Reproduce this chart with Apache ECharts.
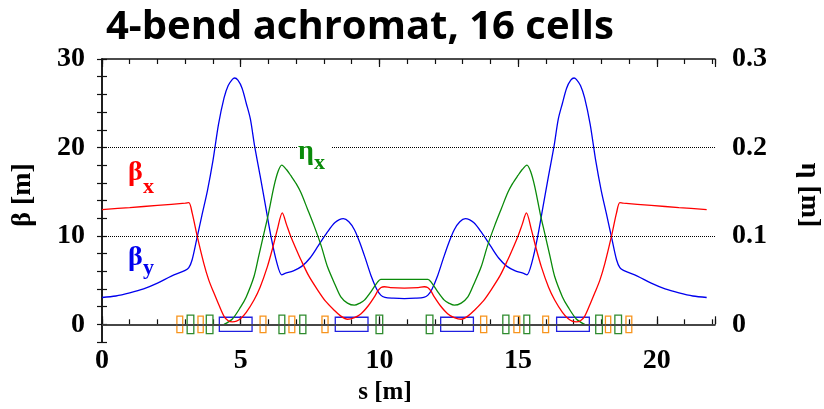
<!DOCTYPE html>
<html lang="en">

<head>
  <meta charset="UTF-8">
  <title>4-bend achromat, 16 cells</title>
  <style>
    html, body { margin: 0; padding: 0; background: #fff; }
    #chart { width: 824px; height: 409px; }
  </style>
  <script src="https://cdn.jsdelivr.net/npm/echarts@6/dist/echarts.min.js"></script>
</head>

<body>
  <div id="chart"></div>
  <script>
    // beta_y (blue)
    const sBetaY = [0, 0.5, 1.0, 1.5, 2.0, 2.5, 3.0, 3.13, 3.25, 3.4, 3.6, 3.8, 4.0, 4.2, 4.4, 4.55, 4.7, 4.78, 4.9, 5.05,
      5.2, 5.35, 5.5, 5.7, 5.9, 6.1, 6.3, 6.48, 6.6, 6.9, 7.2, 7.5, 7.8, 8.1, 8.4, 8.7, 8.9, 9.1, 9.3, 9.5,
      9.7, 9.9, 10.05, 10.2, 10.5, 10.9, 11.3, 11.6, 11.75, 11.9, 12.1, 12.3, 12.5, 12.7, 12.9, 13.1, 13.4, 13.7, 14.0, 14.3,
      14.6, 14.9, 15.2, 15.32, 15.5, 15.7, 15.9, 16.1, 16.3, 16.45, 16.6, 16.75, 16.9, 17.02, 17.1, 17.25, 17.4, 17.6, 17.8, 18.0,
      18.2, 18.4, 18.55, 18.67, 18.8, 19.3, 19.8, 20.3, 20.8, 21.3, 21.8];
    const betaY = [3.03, 3.2, 3.55, 4.0, 4.65, 5.45, 6.1, 6.4, 7.3, 9.4, 12.3, 15.1, 18.5, 22.6, 25.6, 27.0, 27.7, 27.85, 27.6, 26.7,
      25.0, 23.2, 20.2, 16.8, 13.3, 9.8, 7.0, 5.6, 5.75, 6.05, 6.55, 7.5, 8.9, 10.3, 11.5, 11.95, 11.6, 10.7, 9.2, 7.4,
      5.5, 4.0, 3.3, 3.05, 2.95, 2.9, 2.95, 3.05, 3.3, 4.0, 5.5, 7.4, 9.2, 10.7, 11.6, 11.95, 11.5, 10.3, 8.9, 7.5,
      6.55, 6.05, 5.75, 5.6, 7.0, 9.8, 13.3, 16.8, 20.2, 23.2, 25.0, 26.7, 27.6, 27.85, 27.7, 27.0, 25.6, 22.6, 18.5, 15.1,
      12.3, 9.4, 7.3, 6.4, 6.1, 5.45, 4.65, 4.0, 3.55, 3.2, 3.03];

    // beta_x (red)
    const sBetaX = [0, 1, 2, 3.0, 3.13, 3.25, 3.43, 3.67, 3.85, 4.04, 4.2, 4.4, 4.55, 4.7, 4.85, 5.0, 5.2, 5.48, 5.7, 5.96,
      6.15, 6.32, 6.5, 6.65, 6.81, 7.0, 7.17, 7.45, 7.77, 8.05, 8.37, 8.6, 8.85, 9.1, 9.34, 9.6, 9.82, 9.95, 10.06, 10.18,
      10.4, 10.9, 11.4, 11.62, 11.74, 11.85, 11.98, 12.2, 12.46, 12.7, 12.95, 13.2, 13.43, 13.75, 14.03, 14.35, 14.63, 14.8, 14.99, 15.15,
      15.3, 15.48, 15.65, 15.84, 16.1, 16.32, 16.6, 16.8, 16.95, 17.1, 17.25, 17.4, 17.6, 17.76, 17.95, 18.13, 18.37, 18.55, 18.67, 18.8,
      19.8, 20.8, 21.8];
    const betaX = [12.97, 13.2, 13.45, 13.7, 13.75, 12.6, 10.0, 6.9, 5.0, 3.5, 2.3, 0.9, 0.4, 0.27, 0.35, 0.65, 1.35, 2.75, 4.2, 6.5,
      8.6, 10.7, 12.6, 11.3, 9.9, 8.5, 7.3, 5.5, 3.9, 2.65, 1.6, 0.95, 0.57, 0.75, 1.2, 2.1, 3.1, 3.8, 4.17, 4.25,
      4.15, 4.1, 4.15, 4.25, 4.17, 3.8, 3.1, 2.1, 1.2, 0.75, 0.57, 0.95, 1.6, 2.65, 3.9, 5.5, 7.3, 8.5, 9.9, 11.3,
      12.6, 10.7, 8.6, 6.5, 4.2, 2.75, 1.35, 0.65, 0.35, 0.27, 0.4, 0.9, 2.3, 3.5, 5.0, 6.9, 10.0, 12.6, 13.75, 13.7,
      13.45, 13.2, 12.97];

    // eta_x (green, right axis)
    const sEta = [4.4, 4.7, 5.0, 5.2, 5.48, 5.65, 5.84, 6.0, 6.2, 6.35, 6.48, 6.65, 6.81, 7.0, 7.17, 7.4, 7.65, 7.9, 8.13, 8.4,
      8.61, 8.85, 9.1, 9.3, 9.46, 9.7, 9.94, 10.05, 10.9, 11.75, 11.86, 12.1, 12.34, 12.5, 12.7, 12.95, 13.19, 13.4, 13.67, 13.9,
      14.15, 14.4, 14.63, 14.8, 14.99, 15.15, 15.32, 15.45, 15.6, 15.8, 15.96, 16.15, 16.32, 16.6, 16.8, 17.1, 17.4];
    const etaX = [0, 0.006, 0.0197, 0.031, 0.054, 0.077, 0.103, 0.125, 0.156, 0.173, 0.180, 0.175, 0.168, 0.159, 0.149, 0.131, 0.111, 0.089, 0.065, 0.045,
      0.031, 0.024, 0.0216, 0.024, 0.0273, 0.037, 0.048, 0.0508, 0.0508, 0.0508, 0.048, 0.037, 0.0273, 0.024, 0.0216, 0.024, 0.031, 0.045, 0.065, 0.089,
      0.111, 0.131, 0.149, 0.159, 0.168, 0.175, 0.180, 0.173, 0.156, 0.125, 0.103, 0.077, 0.054, 0.031, 0.0197, 0.006, 0];

    // lattice elements: B = dipole, Q = quadrupole, S = sextupole
    const magStart = [2.70, 3.07, 3.46, 3.76, 4.23, 5.70, 6.38, 6.74, 7.13, 7.93, 8.41, 9.88,
      11.69, 12.21, 13.65, 14.45, 14.85, 15.21, 15.89, 16.39, 17.80, 18.15, 18.49, 18.89];
    const magEnd = [2.91, 3.31, 3.65, 4.00, 5.41, 5.91, 6.59, 6.95, 7.35, 8.15, 9.59, 10.12,
      11.93, 13.39, 13.87, 14.67, 15.06, 15.42, 16.10, 17.57, 18.04, 18.34, 18.73, 19.10];
    const magType = ['S', 'Q', 'S', 'Q', 'B', 'S', 'Q', 'S', 'Q', 'S', 'B', 'Q',
      'Q', 'B', 'S', 'Q', 'S', 'Q', 'S', 'B', 'Q', 'S', 'Q', 'S'];

    const betaTicks = [0, 10, 20, 30];
    const etaTicks = [0, 0.1, 0.2, 0.3];
    const sTicks = [0, 5, 10, 15, 20];

    const zip = (a, b) => a.map((v, i) => [v, b[i]]);

    const serif = 'Liberation Serif';
    const magStyle = {
      B: { color: '#2020e0', half: 0.8 },
      Q: { color: '#2e8b2e', half: 1.05 },
      S: { color: '#f7941d', half: 0.93 }
    };

    const xCommon = { type: 'value', min: 0, max: 22.1, splitLine: { show: false } };
    const frameLine = { show: true, lineStyle: { color: '#111', width: 1.5 } };
    const tickStyle = { color: '#111', width: 1.2 };

    let myChart = echarts.init(document.getElementById('chart'));

    let option = {
      animation: false,
      backgroundColor: '#fff',
      grid: { left: 102, right: 109, top: 59, bottom: 67 },
      xAxis: [
        Object.assign({}, xCommon, {
          position: 'bottom', interval: 5,
          axisLine: frameLine,
          axisTick: { show: true, inside: true, length: 8, lineStyle: tickStyle },
          axisLabel: {
            margin: 5, color: '#000', fontFamily: serif, fontWeight: 'bold', fontSize: 28,
            formatter: v => sTicks.indexOf(v) >= 0 ? String(v) : ''
          }
        }),
        Object.assign({}, xCommon, {
          position: 'bottom', interval: 1,
          axisLine: { show: false },
          axisTick: { show: true, inside: true, length: 5, lineStyle: tickStyle },
          axisLabel: { show: false }
        }),
        Object.assign({}, xCommon, {
          position: 'top', interval: 5,
          axisLine: frameLine,
          axisTick: { show: true, inside: true, length: 8, lineStyle: tickStyle },
          axisLabel: { show: false }
        }),
        Object.assign({}, xCommon, {
          position: 'top', interval: 1,
          axisLine: { show: false },
          axisTick: { show: true, inside: true, length: 5, lineStyle: tickStyle },
          axisLabel: { show: false }
        })
      ],
      yAxis: [
        {
          type: 'value', position: 'left', min: -2, max: 30, interval: 2,
          splitLine: { show: false },
          axisLine: frameLine,
          axisTick: { show: true, inside: true, length: 5, lineStyle: tickStyle },
          axisLabel: {
            margin: 17, color: '#000', fontFamily: serif, fontWeight: 'bold', fontSize: 28,
            formatter: v => betaTicks.indexOf(Math.round(v * 1000) / 1000) >= 0 ? String(Math.round(v)) : ''
          }
        },
        {
          type: 'value', position: 'right', min: -0.02, max: 0.3, interval: 0.02,
          splitLine: { show: false },
          axisLine: frameLine,
          axisTick: { show: true, inside: true, length: 5, lineStyle: tickStyle },
          axisLabel: {
            margin: 17, color: '#000', fontFamily: serif, fontWeight: 'bold', fontSize: 28,
            formatter: v => {
              let r = Math.round(v * 1000) / 1000;
              return etaTicks.indexOf(r) >= 0 ? String(r) : '';
            }
          }
        }
      ],
      series: [
        {
          name: 'elements',
          type: 'custom',
          xAxisIndex: 0,
          yAxisIndex: 0,
          silent: true,
          z: 3,
          data: magStart.map((v, i) => [v, magEnd[i], i]),
          renderItem: function (params, api) {
            let st = magStyle[magType[api.value(2)]];
            let p0 = api.coord([api.value(0), st.half]);
            let p1 = api.coord([api.value(1), -st.half]);
            return {
              type: 'rect',
              shape: { x: p0[0], y: p0[1], width: p1[0] - p0[0], height: p1[1] - p0[1] },
              style: { fill: 'none', stroke: st.color, lineWidth: 1.3 }
            };
          }
        },
        {
          name: 'beta_y',
          type: 'line',
          xAxisIndex: 0,
          yAxisIndex: 0,
          data: zip(sBetaY, betaY),
          showSymbol: false,
          smooth: 0.3,
          z: 4,
          lineStyle: { color: '#0000ee', width: 1.3 }
        },
        {
          name: 'eta_x',
          type: 'line',
          xAxisIndex: 0,
          yAxisIndex: 1,
          data: zip(sEta, etaX),
          showSymbol: false,
          smooth: 0.3,
          z: 4,
          lineStyle: { color: '#0a8a0a', width: 1.3 }
        },
        {
          name: 'beta_x',
          type: 'line',
          xAxisIndex: 0,
          yAxisIndex: 0,
          data: zip(sBetaX, betaX),
          showSymbol: false,
          smooth: 0.3,
          z: 4,
          lineStyle: { color: '#ff0000', width: 1.3 },
          markLine: {
            silent: true,
            symbol: 'none',
            label: { show: false },
            data: [
              { yAxis: 0, lineStyle: { type: 'solid', color: '#444', width: 1.5 } },
              { yAxis: 10, lineStyle: { type: 'dotted', color: '#000', width: 1 } },
              { yAxis: 20, lineStyle: { type: 'dotted', color: '#000', width: 1 } }
            ]
          }
        }
      ],
      graphic: [
        {
          type: 'text', left: 106, top: 8, z: 100,
          style: { text: '4-bend achromat, 16 cells', font: 'bold 40px "Open Sans"', fill: '#000' }
        },
        {
          type: 'text', x: 385, y: 393, z: 100,
          style: { text: 's [m]', font: 'bold 25px "Liberation Serif"', fill: '#000', align: 'center', verticalAlign: 'middle' }
        },
        {
          type: 'text', x: 23, y: 195, rotation: Math.PI / 2, z: 100,
          style: { text: 'β [m]', font: 'bold 28px "Liberation Serif"', fill: '#000', align: 'center', verticalAlign: 'middle' }
        },
        {
          type: 'text', x: 809, y: 195, rotation: -Math.PI / 2, z: 100,
          style: { text: 'η [m]', font: 'bold 28px "Liberation Serif"', fill: '#000', align: 'center', verticalAlign: 'middle' }
        },
        // curve labels
        {
          type: 'text', x: 128, y: 173, z: 100,
          style: { text: 'β', font: 'bold 28px "Liberation Serif"', fill: '#ff0000', verticalAlign: 'middle' }
        },
        {
          type: 'text', x: 143, y: 187, z: 100,
          style: { text: 'x', font: 'bold 22px "Liberation Serif"', fill: '#ff0000', verticalAlign: 'middle' }
        },
        {
          type: 'text', x: 128, y: 258, z: 100,
          style: { text: 'β', font: 'bold 28px "Liberation Serif"', fill: '#0000ee', verticalAlign: 'middle' }
        },
        {
          type: 'text', x: 143, y: 268, z: 100,
          style: { text: 'y', font: 'bold 22px "Liberation Serif"', fill: '#0000ee', verticalAlign: 'middle' }
        },
        {
          type: 'rect', z: 99,
          shape: { x: 297, y: 143, width: 34, height: 10 },
          style: { fill: '#fff' }
        },
        {
          type: 'text', x: 298, y: 152, z: 100,
          style: { text: 'η', font: 'bold 28px "Liberation Serif"', fill: '#0a8a0a', verticalAlign: 'middle' }
        },
        {
          type: 'text', x: 314, y: 163, z: 100,
          style: { text: 'x', font: 'bold 22px "Liberation Serif"', fill: '#0a8a0a', verticalAlign: 'middle' }
        }
      ]
    };

    myChart.setOption(option);

    window.onresize = function () {
      myChart.resize();
    };
  </script>
</body>

</html>
